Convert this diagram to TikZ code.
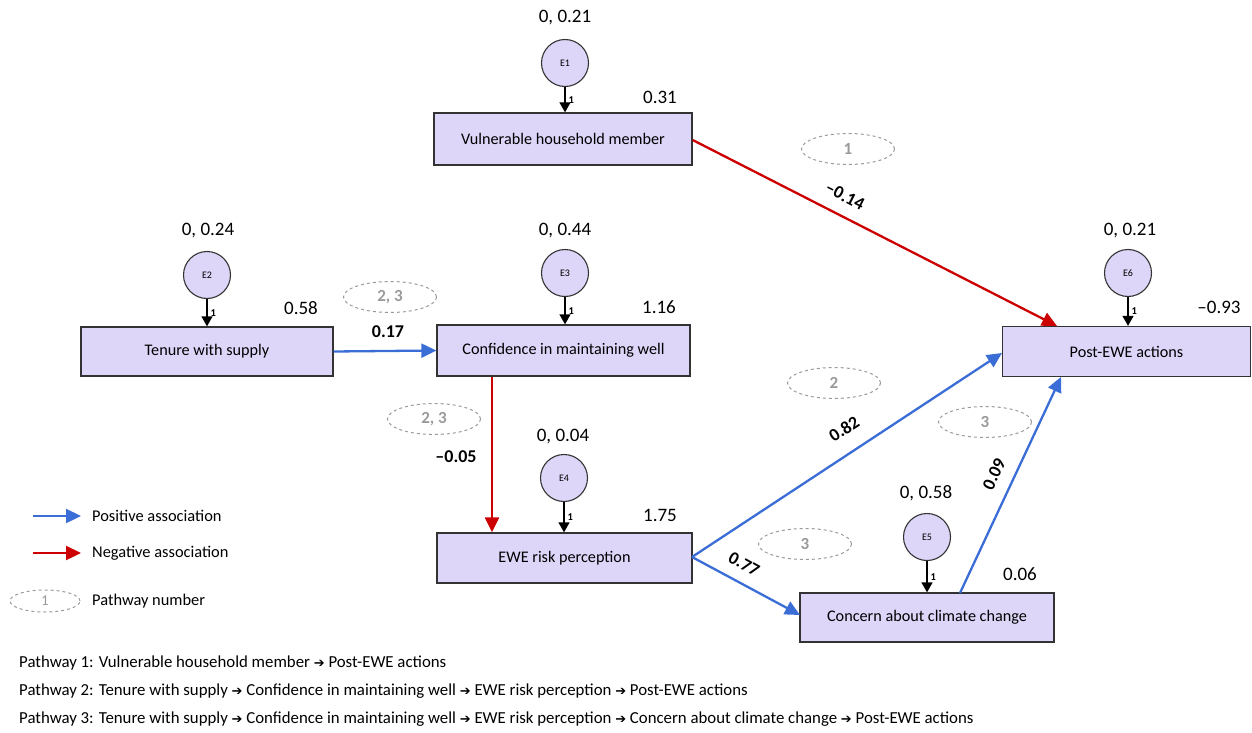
\documentclass[tikz,border=0pt]{standalone}
\usepackage{fontspec}
\setmainfont{Carlito}
\newfontfamily\arrowfont{DejaVu Sans}
\usetikzlibrary{arrows.meta,shapes.geometric}
\definecolor{boxfill}{HTML}{DDD6F9}
\definecolor{posblue}{HTML}{3A6DD6}
\definecolor{negred}{HTML}{CC0000}
\definecolor{pathgray}{HTML}{9A9A9A}
\definecolor{edgegray}{HTML}{333333}
\newcommand{\ar}{{\arrowfont\fontsize{13}{14}\selectfont ➔}}
\begin{document}
\begin{tikzpicture}[x=1pt,y=-1pt,
  var/.style={draw=edgegray, line width=1.3pt, fill=boxfill, minimum width=255pt, minimum height=50pt, inner sep=0pt, font=\fontsize{16.2}{18}\selectfont},
  err/.style={circle, draw=edgegray, line width=1.1pt, fill=boxfill, minimum size=47pt, inner sep=0pt, font=\fontsize{10}{11}\selectfont},
  errarrow/.style={draw=black, line width=1.3pt, -{Triangle[length=10pt,width=11pt]}},
  one/.style={font=\bfseries\fontsize{10.5}{12}\selectfont, anchor=west, inner sep=1pt, xshift=2pt},
  val/.style={font=\fontsize{19}{21}\selectfont, inner sep=1pt},
  coef/.style={font=\bfseries\fontsize{18}{20}\selectfont, inner sep=1pt},
  posarrow/.style={draw=posblue, line width=2.3pt, -{Triangle[length=15pt,width=14pt]}},
  negarrow/.style={draw=negred, line width=2.3pt, -{Triangle[length=15pt,width=14pt]}},
  pathnum/.style={ellipse, draw=pathgray, dashed, line width=1pt, minimum width=93pt, minimum height=31pt, inner sep=0pt, text=pathgray, font=\bfseries\fontsize{17}{19}\selectfont},
  legtext/.style={anchor=west, font=\fontsize{16.4}{18}\selectfont, inner sep=0pt},
  foot/.style={anchor=west, font=\fontsize{16.8}{18}\selectfont, inner sep=0pt}
]
\useasboundingbox (0,0) rectangle (1252,733);

% main boxes
\node[var, minimum width=258pt, minimum height=52pt] (vhm) at (563,139) {Vulnerable household member};
\node[var, minimum width=252pt, minimum height=49pt] (tws) at (207,351.5) {Tenure with supply};
\node[var, minimum width=253pt, minimum height=51pt] (cmw) at (563.5,350.5) {Confidence in maintaining well};
\node[var] (ewe) at (564.5,558) {EWE risk perception};
\node[var, minimum width=254pt, minimum height=49pt] (cac) at (927,617.5) {Concern about climate change};
\node[var, minimum width=248pt, minimum height=50pt] (pea) at (1126.5,351.5) {Post-EWE actions};

% error terms
\node[err] (e1) at (565,63) {E1};
\node[err] (e2) at (207,275) {E2};
\node[err] (e3) at (565,273) {E3};
\node[err] (e4) at (564,478) {E4};
\node[err] (e5) at (927,537) {E5};
\node[err] (e6) at (1128,273) {E6};

\draw[errarrow] (e1) -- (vhm.north -| e1) node[one, midway] {1};
\draw[errarrow] (e2) -- (tws.north -| e2) node[one, midway] {1};
\draw[errarrow] (e3) -- (cmw.north -| e3) node[one, midway] {1};
\draw[errarrow] (e4) -- (ewe.north -| e4) node[one, midway] {1};
\draw[errarrow] (e5) -- (cac.north -| e5) node[one, midway] {1};
\draw[errarrow] (e6) -- (pea.north -| e6) node[one, midway] {1};

% variances / intercepts
\node[val] (v1) at (565,18) {0, 0.21};
\node[val] (v2) at (208,231) {0, 0.24};
\node[val] (v3) at (565,231) {0, 0.44};
\node[val] (v4) at (563,437) {0, 0.04};
\node[val] (v5) at (926,493) {0, 0.58};
\node[val] (v6) at (1130,231) {0, 0.21};
\node[val] (i1) at (660,97) {0.31};
\node[val] (i2) at (301,308) {0.58};
\node[val] (i3) at (659,307) {1.16};
\node[val] (i4) at (660,515) {1.75};
\node[val] (i5) at (1020,574) {0.06};
\node[val] (i6) at (1219,307) {\textendash0.93};

% paths
\coordinate (pvTop) at (1057,326);
\draw[negarrow] (vhm.east |- 0,140) -- (pvTop);
\node[coef, rotate=-27] (c1) at (845,196) {\textendash0.14};
\draw[posarrow] (tws.east) -- (cmw.west);
\node[coef] (c2) at (388,332) {0.17};
\draw[negarrow] (cmw.south -| 492,0) -- (ewe.north -| 492,0);
\node[coef] (c3) at (456,457) {\textendash0.05};
\coordinate (ewR) at (692,557);
\coordinate (peL) at (1002,353);
\draw[posarrow] (ewR) -- (peL);
\node[coef, rotate=33] (c4) at (844,429) {0.82};
\coordinate (ccL) at (800,615);
\draw[posarrow] (ewR) -- (ccL);
\node[coef, rotate=-29] (c5) at (744,564) {0.77};
\coordinate (ccT) at (960,593);
\coordinate (peB) at (1061,377);
\draw[posarrow] (ccT) -- (peB);
\node[coef, rotate=65] (c6) at (994,474) {0.09};

% pathway numbers
\node[pathnum] (p1) at (848,149) {1};
\node[pathnum] (p23a) at (390,297) {2, 3};
\node[pathnum] (p23b) at (434,419) {2, 3};
\node[pathnum] (p2) at (834,383) {2};
\node[pathnum] (p3a) at (985,422) {3};
\node[pathnum] (p3b) at (805,544) {3};

% legend
\coordinate (lb1) at (33,516); \coordinate (lb2) at (81,516);
\draw[posarrow] (lb1) -- (lb2);
\node[legtext] (lt1) at (92,516) {Positive association};
\coordinate (lr1) at (33,553); \coordinate (lr2) at (81,553);
\draw[negarrow] (lr1) -- (lr2);
\node[legtext] (lt2) at (92,553) {Negative association};
\node[pathnum, minimum width=70pt, minimum height=22pt, font=\fontsize{15}{17}\selectfont] (lp) at (45,601) {1};
\node[legtext] (lt3) at (92,601) {Pathway number};

% footnotes
\node[foot] (f1) at (19,663) {Pathway 1: Vulnerable household member \ar{} Post-EWE actions};
\node[foot] (f2) at (19,691) {Pathway 2: Tenure with supply \ar{} Confidence in maintaining well \ar{} EWE risk perception \ar{} Post-EWE actions};
\node[foot] (f3) at (19,719) {Pathway 3: Tenure with supply \ar{} Confidence in maintaining well \ar{} EWE risk perception \ar{} Concern about climate change \ar{} Post-EWE actions};
\end{tikzpicture}
\end{document}
